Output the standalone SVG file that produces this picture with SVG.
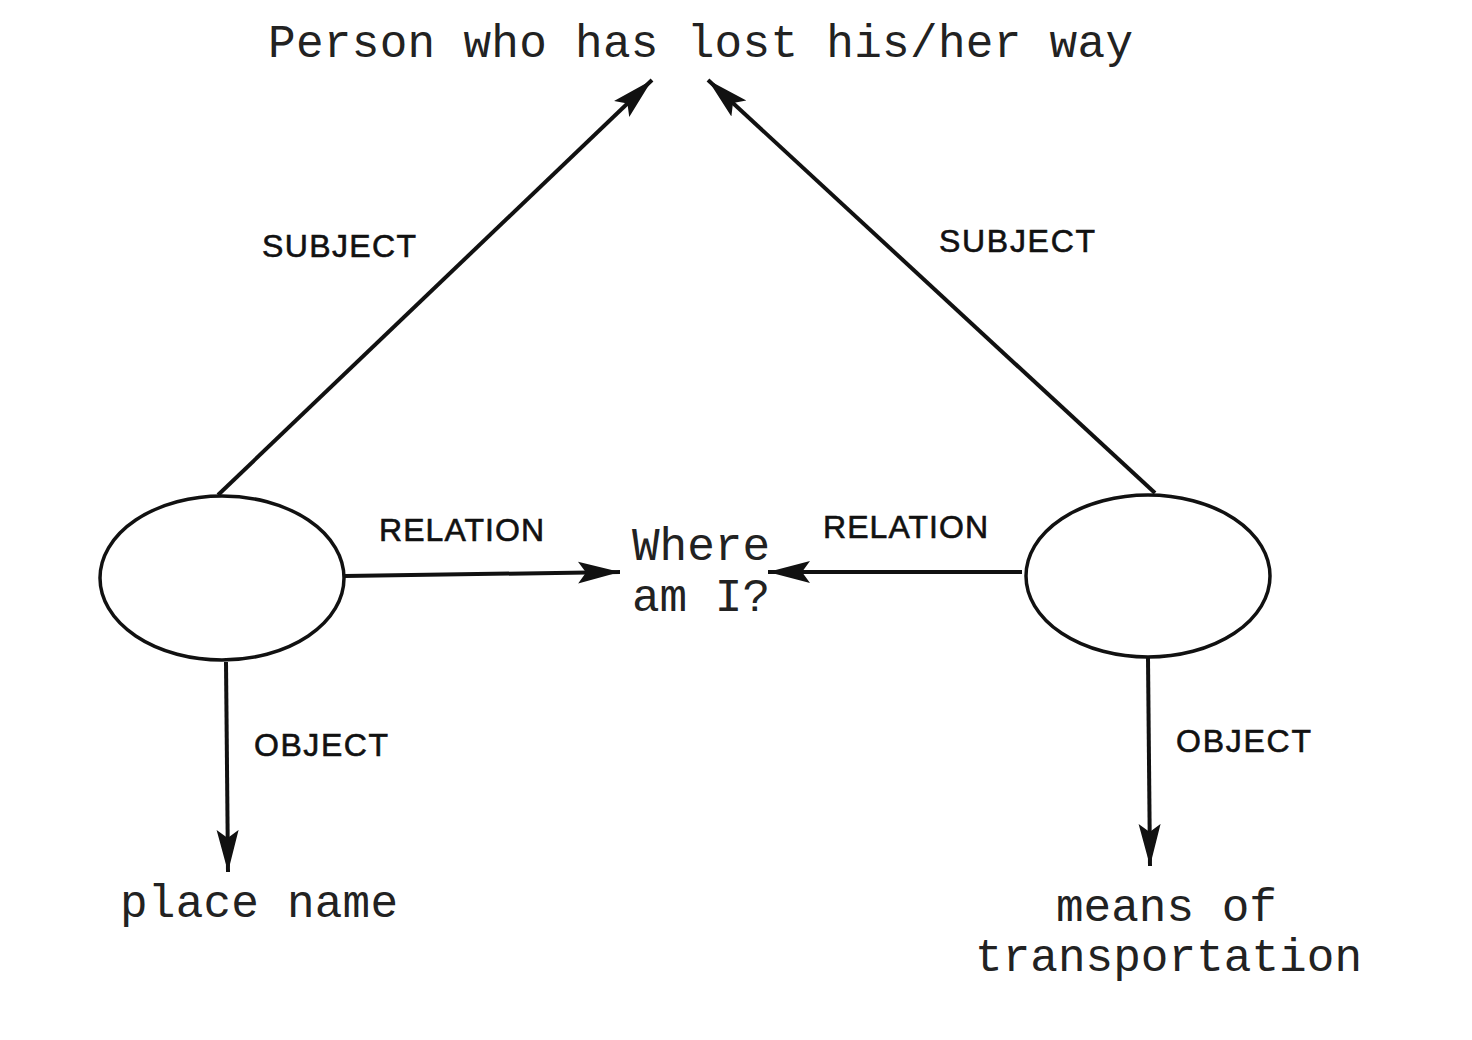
<svg xmlns="http://www.w3.org/2000/svg" width="1472" height="1040" viewBox="0 0 1472 1040">
<style>
.m{font-family:"Liberation Mono",monospace;font-size:46px;fill:#222}
.s{font-family:"Liberation Sans",Arial,sans-serif;font-size:32px;fill:#111;stroke:#111;stroke-width:0.6}
.e{fill:none;stroke:#111;stroke-width:3.5}
.c{fill:none;stroke:#111;stroke-width:4;marker-end:url(#a)}
</style>
<defs>
<marker id="a" markerUnits="userSpaceOnUse" markerWidth="44" markerHeight="26" refX="42" refY="13" orient="auto">
<path d="M0,2 L42,13 L0,24 L8,13 Z" fill="#111"/>
</marker>
</defs>
<rect width="1472" height="1040" fill="#fff"/>
<g id="connectors">
<path class="c" d="M218,495 L652,80"/>
<path class="c" d="M1155,493 L708,80"/>
<path class="c" d="M345,576 L620,572"/>
<path class="c" d="M1022,572 L768,572"/>
<path class="c" d="M226,662 L228,872"/>
<path class="c" d="M1148,658 L1150,866"/>
</g>
<g id="labels">
<text class="s" x="262" y="257" textLength="154">SUBJECT</text>
<text class="s" x="939" y="252" textLength="156">SUBJECT</text>
<text class="s" x="379" y="541" textLength="165">RELATION</text>
<text class="s" x="823" y="538" textLength="165">RELATION</text>
<text class="s" x="254" y="756" textLength="134">OBJECT</text>
<text class="s" x="1176" y="752" textLength="135">OBJECT</text>
</g>
<g id="person"><text class="m" x="268" y="57" textLength="865">Person who has lost his/her way</text></g>
<g id="where"><text class="m" x="632" y="560">Where</text><text class="m" x="632" y="611">am I?</text></g>
<g id="place"><text class="m" x="120" y="917" textLength="278">place name</text></g>
<g id="means"><text class="m" x="1056" y="921">means of</text><text class="m" x="975" y="971" textLength="387">transportation</text></g>
<g id="left-node"><ellipse class="e" cx="222" cy="578" rx="122" ry="82"/></g>
<g id="right-node"><ellipse class="e" cx="1148" cy="576" rx="122" ry="81"/></g>
</svg>
